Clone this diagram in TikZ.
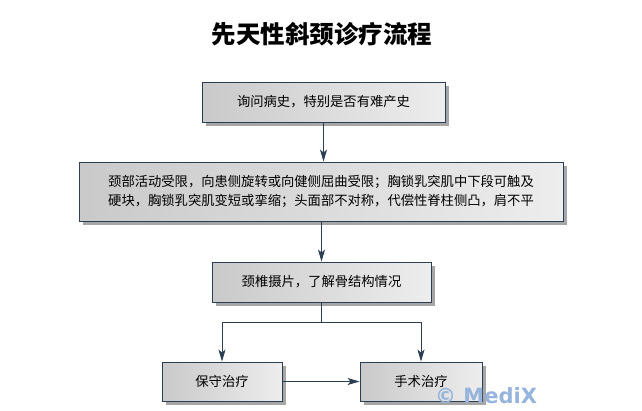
\documentclass[tikz,border=0pt]{standalone}
\usepackage{fontspec}
\newfontfamily\cjk{Noto Sans CJK SC}
\newfontfamily\wmfont{DejaVu Sans}
\usepackage{tikz}
\usetikzlibrary{arrows.meta, positioning, shadows}
\definecolor{edgeblue}{RGB}{44,62,82}
\definecolor{markblue}{RGB}{150,180,220}
\tikzstyle{stepbox} = [rectangle, draw=edgeblue, line width=0.9pt, inner sep=0pt, left color=gray!42, right color=gray!14, drop shadow={shadow xshift=3.5pt, shadow yshift=-3.5pt, fill=black, opacity=0.35}, font=\cjk\fontsize{13.3}{19}\selectfont, text centered, align=center, minimum height=40pt]
\tikzstyle{line} = [draw=edgeblue, line width=0.9pt, -{Stealth[length=12pt, width=7pt, inset=3pt]}]
\tikzstyle{link} = [draw=edgeblue, line width=0.9pt]

\begin{document}
\begin{tikzpicture}[x=1pt, y=-1pt]
            \useasboundingbox (0,0) rectangle (642,410);
            \fill[white] (0,0) rectangle (642,410);

            \node (title) at (322,34) {\cjk\bfseries\fontsize{24.5}{27}\selectfont 先天性斜颈诊疗流程};

            \node[stepbox, minimum width=243pt] (history) at (323.5,102) {询问病史，特别是否有难产史};
            \node[stepbox, minimum width=484pt, minimum height=59pt] (signs) at (321,191.5) {颈部活动受限，向患侧旋转或向健侧屈曲受限；胸锁乳突肌中下段可触及\\硬块，胸锁乳突肌变短或挛缩；头面部不对称，代偿性脊柱侧凸，肩不平};
            \node[stepbox, minimum width=219pt] (xray) at (321.5,282) {颈椎摄片，了解骨结构情况};
            \node[stepbox, minimum width=120pt, minimum height=39pt] (conserv) at (222,381.5) {保守治疗};
            \node[stepbox, minimum width=122pt, minimum height=39pt] (surgery) at (421,381.5) {手术治疗};

            \coordinate (split) at (321.5,322);

            \draw[line] (history) -- (history.south |- signs.north);
            \draw[line] (signs.south -| xray.north) -- (xray);
            \draw[link] (xray) -- (split);
            \draw[line] (split) -| (conserv);
            \draw[line] (split) -| (surgery);
            \draw[line] (conserv) -- (surgery);

            \node[font=\wmfont\bfseries\fontsize{21}{24}\selectfont, text=markblue, draw=none] (mark) at (486,396) {© MediX};

        \end{tikzpicture}
\end{document}
